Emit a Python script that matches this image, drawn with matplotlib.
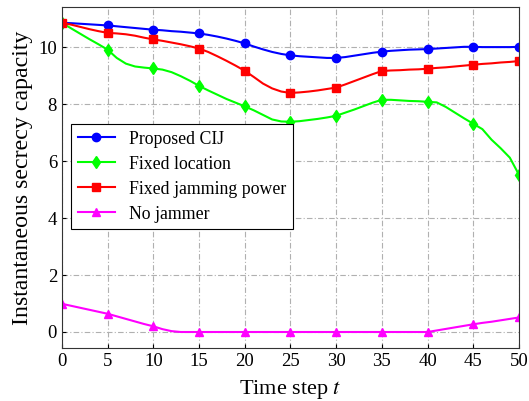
import matplotlib
matplotlib.use('Agg')
import matplotlib.pyplot as plt
import numpy as np

# secrecy capacity per time step for each scheme
t = np.arange(51)

proposed_cij = [
    10.85, 10.84, 10.82, 10.80, 10.78, 10.76,
    10.73, 10.70, 10.67, 10.64, 10.61,
    10.59, 10.56, 10.54, 10.51, 10.48,
    10.43, 10.37, 10.30, 10.22, 10.13,
    10.02, 9.92, 9.83, 9.76, 9.71,
    9.68, 9.66, 9.64, 9.62, 9.62,
    9.65, 9.70, 9.75, 9.80, 9.84,
    9.87, 9.89, 9.91, 9.92, 9.93,
    9.95, 9.97, 9.99, 10.01, 10.01,
    10.00, 10.00, 10.00, 10.00, 10.01,
]

fixed_location = [
    10.85, 10.66, 10.47, 10.28, 10.10, 9.91,
    9.62, 9.42, 9.32, 9.28, 9.25,
    9.21, 9.12, 8.98, 8.82, 8.64,
    8.48, 8.33, 8.18, 8.05, 7.92,
    7.78, 7.62, 7.46, 7.39, 7.38,
    7.40, 7.44, 7.48, 7.53, 7.59,
    7.70, 7.81, 7.93, 8.05, 8.15,
    8.15, 8.13, 8.11, 8.10, 8.08,
    8.06, 7.90, 7.70, 7.50, 7.31,
    7.12, 6.75, 6.45, 6.12, 5.52,
]

fixed_power = [
    10.85, 10.79, 10.71, 10.63, 10.56, 10.50,
    10.48, 10.45, 10.40, 10.33, 10.27,
    10.22, 10.16, 10.10, 10.03, 9.95,
    9.83, 9.68, 9.52, 9.35, 9.17,
    8.95, 8.72, 8.55, 8.44, 8.39,
    8.41, 8.44, 8.48, 8.53, 8.58,
    8.69, 8.81, 8.93, 9.05, 9.16,
    9.18, 9.19, 9.21, 9.22, 9.24,
    9.27, 9.29, 9.32, 9.35, 9.38,
    9.41, 9.43, 9.46, 9.48, 9.51,
]

no_jammer = [
    0.99, 0.92, 0.85, 0.78, 0.71, 0.64,
    0.55, 0.46, 0.37, 0.28, 0.20,
    0.10, 0.03, 0.00, 0.00, 0.00,
    0.00, 0.00, 0.00, 0.00, 0.00,
    0.00, 0.00, 0.00, 0.00, 0.00,
    0.00, 0.00, 0.00, 0.00, 0.00,
    0.00, 0.00, 0.00, 0.00, 0.00,
    0.00, 0.00, 0.00, 0.00, 0.00,
    0.054, 0.108, 0.162, 0.216, 0.27,
    0.32, 0.36, 0.41, 0.46, 0.51,
]

plt.rcParams['font.family'] = ['Liberation Serif', 'DejaVu Serif']
plt.rcParams['mathtext.fontset'] = 'stix'

fig = plt.figure(figsize=(5.29, 4.01), dpi=100)
ax = fig.add_axes([0.117, 0.133, 0.864, 0.849])

kw = dict(linewidth=1.5, markevery=5, markersize=6)
ax.plot(t, proposed_cij, color='#0000ff', marker='o', label='Proposed CIJ', **kw)
ax.plot(t, fixed_location, color='#00ff00', marker='d', label='Fixed location', **kw)
ax.plot(t, fixed_power, color='#ff0000', marker='s', label='Fixed jamming power', **kw)
ax.plot(t, no_jammer, color='#ff00ff', marker='^', label='No jammer', **kw)

ax.set_xlim(0, 50)
ax.set_ylim(-0.55, 11.4)
ax.set_xticks(range(0, 51, 5))
ax.set_yticks(range(0, 11, 2))
ax.tick_params(labelsize=13.5, direction='in', length=3)
ax.grid(True, color='#b0b0b0', linestyle=(0, (5, 2, 1, 2)), linewidth=0.8)
ax.set_axisbelow(True)
for sp in ax.spines.values():
    sp.set_color('#333333')

ax.set_xlabel('Time step $t$', fontsize=16, labelpad=6)
ax.set_ylabel('Instantaneous secrecy capacity', fontsize=17.2, labelpad=4)

leg = ax.legend(loc='upper left', bbox_to_anchor=(0.021, 0.656), fontsize=12.8,
                fancybox=False, framealpha=1, edgecolor='black',
                borderaxespad=0, handlelength=2.1, labelspacing=0.45,
                borderpad=0.35)
leg.get_frame().set_linewidth(0.8)

fig.savefig('out.png', dpi=100)
